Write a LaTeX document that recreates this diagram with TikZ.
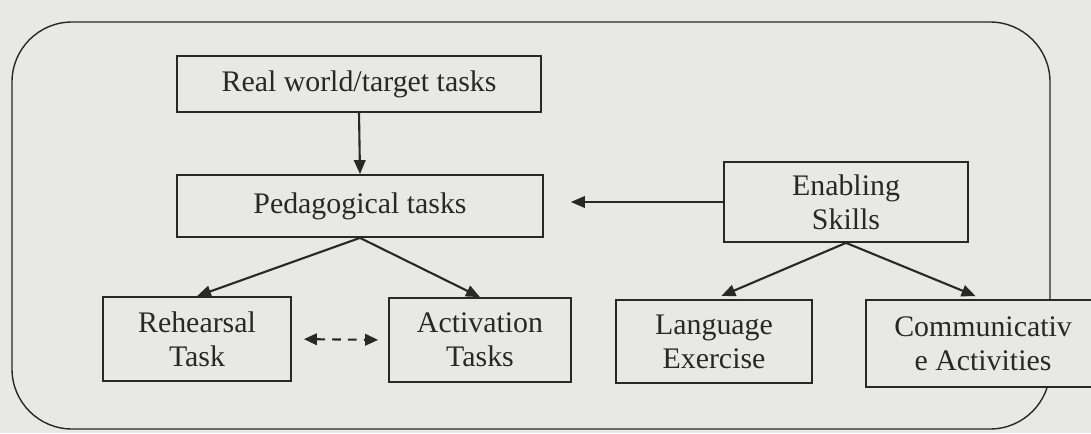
\documentclass[tikz,border=0pt]{standalone}
\usepackage{fontspec}
\setmainfont{Liberation Serif}
\usetikzlibrary{arrows.meta}
\definecolor{bg}{RGB}{232,232,229}
\definecolor{ink}{RGB}{40,40,40}
\begin{document}
\begin{tikzpicture}[x=0.02cm,y=-0.02cm,
  box/.style={draw=ink, fill=bg, line width=1pt, inner sep=0pt, align=center,
    font=\fontsize{17}{19.5}\selectfont, text=ink},
  arr/.style={draw=ink, line width=1.2pt, -{Triangle[length=2.8mm,width=2.3mm]}},
  frame/.style={draw=ink, line width=0.8pt, rounded corners=1.2cm}]
\useasboundingbox (0,0) rectangle (1091,433);
\clip (0,0) rectangle (1091,433);
\fill[bg] (0,0) rectangle (1091,433);
\draw[frame] (12,22) rectangle (1050,429);
\node[box, minimum width=7.28cm, minimum height=1.12cm] (real) at (359,84) {Real world/target tasks};
\node[box, minimum width=7.32cm, minimum height=1.24cm] (ped) at (360,206) {Pedagogical tasks};
\node[box, minimum width=4.88cm, minimum height=1.6cm] (ens) at (846,202) {Enabling\\Skills};
\node[box, minimum width=3.76cm, minimum height=1.68cm] (reh) at (197,339) {Rehearsal\\Task};
\node[box, minimum width=3.64cm, minimum height=1.68cm] (act) at (480,340) {Activation\\Tasks};
\node[box, minimum width=3.92cm, minimum height=1.66cm] (lang) at (714,341.5) {Language\\Exercise};
\node[box, minimum width=4.68cm, minimum height=1.74cm] (comm) at (983,343.5) {Communicativ\\e Activities};
\coordinate (pe) at ([xshift=0.54cm]ped.east);
\draw[arr] (real.south) -- (ped.north);
\draw[arr] (ens.west) -- (ens.west -| pe);
\draw[arr] (ped.south) -- (reh.north);
\draw[arr] (ped.south) -- (act.north);
\draw[arr, shorten >=0.16cm] (ens.south) -- (lang.north);
\draw[arr, shorten >=0.16cm] (ens.south) -- (comm.north);
\draw[draw=ink, line width=1.2pt, dash pattern=on 5pt off 4pt,
  {Triangle[length=2.6mm,width=2.3mm]}-{Triangle[length=2.6mm,width=2.3mm]},
  shorten <=0.24cm, shorten >=0.2cm] (reh.east) -- (act.west);
\end{tikzpicture}
\end{document}
